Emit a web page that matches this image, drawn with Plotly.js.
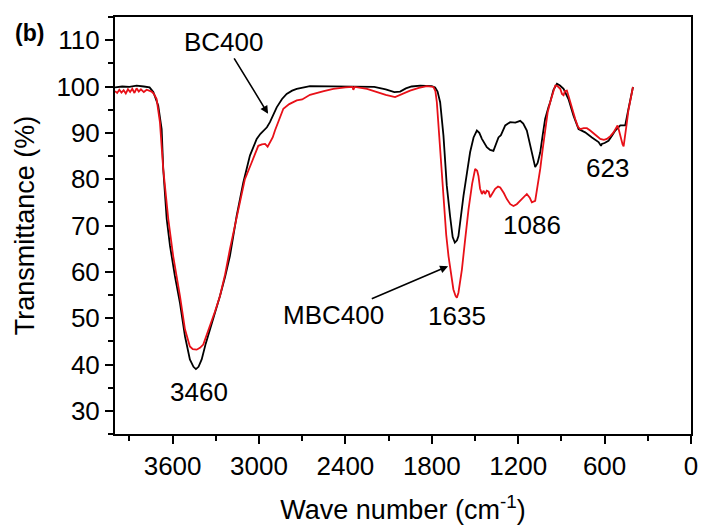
<!DOCTYPE html>
<html>
<head>
<meta charset="utf-8">
<script src="https://cdn.plot.ly/plotly-3.0.1.min.js"></script>
<style>html,body{margin:0;padding:0;background:#fff;}#chart{width:702px;height:525px;}</style>
</head>
<body>
<div id="chart"></div>
<script>
// BC400 (black)
const bcWave = [4000,3950,3900,3850,3800,3760,3734,3700,3676,3665,3641,3618,3584,3549,3514,3480,3455,3438,3420,3398,3370,3340,3305,3271,3235,3202,3155,3109,3063,3016,2990,2970,2945,2924,2900,2877,2840,2808,2770,2738,2646,2500,2400,2300,2200,2120,2060,2020,1980,1940,1880,1800,1777,1760,1742,1719,1696,1673,1655,1640,1625,1615,1600,1580,1555,1534,1510,1487,1470,1452,1418,1395,1372,1355,1337,1320,1290,1256,1220,1186,1165,1140,1120,1105,1082,1065,1047,1030,1013,990,978,955,931,910,885,851,816,781,735,688,642,625,619,600,573,550,526,491,470,457,434,403];
const bcTrans = [99.8,100.0,99.9,100.2,100.0,99.8,98.8,95.9,90.8,82.2,71.4,65.6,59.1,53.3,46.1,41.1,39.5,39.0,39.5,41.1,44.5,47.6,51.2,54.8,59.0,63.4,72.1,79.3,85.1,88.7,89.8,90.5,91.2,92.3,93.8,95.5,97.3,98.4,99.1,99.5,100.1,100.0,100.0,100.0,99.9,99.4,98.8,98.9,99.6,100.0,100.2,100.1,99.8,98.9,96.6,89.4,78.6,72.0,67.5,66.3,66.8,67.7,71.5,76.4,81.5,85.8,89.0,90.5,90.0,88.7,86.9,86.3,86.1,87.5,89.0,89.5,91.6,92.3,92.2,92.6,92.0,90.5,88.0,85.8,82.6,83.5,85.8,89.5,93.0,95.5,96.6,99.3,100.6,100.2,99.5,97.3,93.7,90.8,90.1,89.0,88.0,87.2,87.6,87.8,88.3,89.3,90.5,91.6,91.5,91.6,95.2,99.9];

// MBC400 (red)
const mbcWave = [4000,3985,3970,3955,3940,3925,3910,3895,3880,3865,3850,3835,3820,3800,3780,3760,3746,3730,3711,3688,3665,3630,3596,3549,3514,3480,3460,3433,3410,3387,3340,3305,3271,3235,3202,3144,3098,3051,3005,2980,2958,2940,2924,2905,2889,2860,2831,2790,2738,2700,2646,2550,2484,2400,2350,2345,2335,2250,2182,2120,2055,2000,1951,1890,1835,1789,1775,1765,1742,1719,1700,1684,1665,1650,1635,1626,1615,1591,1570,1545,1520,1499,1485,1476,1465,1452,1440,1430,1418,1405,1395,1380,1360,1340,1325,1300,1279,1255,1233,1210,1186,1160,1140,1120,1105,1082,1065,1047,1030,1013,995,978,955,943,931,915,908,896,885,875,862,851,839,820,804,785,769,745,723,700,677,650,630,605,584,560,538,520,510,500,486,475,468,458,445,435,422,403];
const mbcTrans = [99.0,98.6,99.3,98.7,99.2,98.5,99.4,98.8,99.5,98.6,99.6,98.9,99.4,98.8,99.3,99.0,98.9,98.4,97.3,92.3,82.2,71.4,63.4,54.8,47.6,43.9,43.3,43.2,43.6,44.3,48.3,51.5,54.8,59.5,64.9,73.5,80.0,83.6,87.2,87.5,87.6,87.0,88.0,89.0,90.5,93.0,95.2,96.2,97.0,97.2,98.2,99.0,99.5,99.8,99.9,99.3,99.9,99.5,98.8,98.2,97.7,98.4,99.1,99.7,100.1,99.9,99.0,96.6,85.8,75.0,68.0,63.4,59.0,56.2,54.8,54.4,55.5,60.5,66.5,73.5,79.0,82.2,81.8,80.7,78.0,76.8,77.5,76.8,77.5,77.3,76.1,77.0,77.9,78.4,78.2,77.0,75.7,74.6,74.2,74.6,75.3,76.0,76.8,76.0,75.0,75.3,78.5,82.2,86.5,90.8,94.5,96.6,99.0,100.2,100.2,99.8,99.5,98.4,98.1,99.0,99.1,98.0,96.6,94.5,93.0,91.3,90.8,91.0,91.0,90.5,89.8,89.2,88.7,88.5,88.7,89.3,90.1,91.0,91.6,90.5,88.7,87.5,87.1,89.0,92.3,94.8,96.6,99.9];

const peakLabels = ['3460','1635','1086','623'];
const peakX = [3417,1624,1103,581];
const peakY = [34.1,50.4,70.1,82.4];

const FONT = 'Arial, "Liberation Sans", sans-serif';

const traces = [
  {x: bcWave, y: bcTrans, type: 'scatter', mode: 'lines', name: 'BC400',
   line: {color: '#000000', width: 1.8}},
  {x: mbcWave, y: mbcTrans, type: 'scatter', mode: 'lines', name: 'MBC400',
   line: {color: 'rgb(232,16,24)', width: 1.8}}
];

const annotations = peakLabels.map((t, i) => ({
  x: peakX[i], y: peakY[i], xref: 'x', yref: 'y', text: t, showarrow: false,
  font: {family: FONT, size: 26, color: '#000'}
}));
const plotW = 702 - 115 - 11, plotH = 525 - 17 - 91;
annotations.push(
  {x: 2937, y: 94.1, xref: 'x', yref: 'y', text: 'BC400', showarrow: true,
   ax: -44, ay: -72, arrowhead: 2, arrowsize: 1, arrowwidth: 1.6, arrowcolor: '#000',
   font: {family: FONT, size: 26, color: '#000'}},
  {x: 1687, y: 61.2, xref: 'x', yref: 'y', text: 'MBC400', showarrow: true,
   ax: -115, ay: 49, arrowhead: 2, arrowsize: 1, arrowwidth: 1.6, arrowcolor: '#000',
   font: {family: FONT, size: 26, color: '#000'}},
  {x: (29 - 115) / plotW, y: (525 - 91 - 33) / plotH, xref: 'paper', yref: 'paper',
   xanchor: 'center', yanchor: 'middle', text: '<b>(b)</b>', showarrow: false,
   font: {family: FONT, size: 23, color: '#000'}}
);

const layout = {
  width: 702, height: 525,
  margin: {l: 115, r: 11, t: 17, b: 91},
  paper_bgcolor: '#fff', plot_bgcolor: '#fff',
  showlegend: false,
  font: {family: FONT, size: 26, color: '#000'},
  xaxis: {
    range: [4000, 0], tick0: 0, dtick: 600,
    ticks: 'outside', ticklen: 8, tickwidth: 2, tickcolor: '#000',
    showline: true, linewidth: 2, linecolor: '#000', mirror: true,
    showgrid: false, zeroline: false,
    tickfont: {family: FONT, size: 26, color: '#000'},
    minor: {dtick: 300, ticks: 'outside', ticklen: 5, tickwidth: 2, tickcolor: '#000', showgrid: false},
    title: {text: 'Wave number (cm<sup>-1</sup>)', font: {family: FONT, size: 27, color: '#000'}, standoff: 22}
  },
  yaxis: {
    range: [25, 115], tick0: 0, dtick: 10,
    ticks: 'outside', ticklen: 8, tickwidth: 2, tickcolor: '#000',
    showline: true, linewidth: 2, linecolor: '#000', mirror: true,
    showgrid: false, zeroline: false,
    tickfont: {family: FONT, size: 26, color: '#000'},
    minor: {dtick: 5, ticks: 'outside', ticklen: 5, tickwidth: 2, tickcolor: '#000', showgrid: false},
    title: {text: 'Transmittance (%)', font: {family: FONT, size: 27, color: '#000'}, standoff: 14}
  },
  annotations: annotations
};

Plotly.newPlot('chart', traces, layout, {displayModeBar: false, staticPlot: true});
</script>
</body>
</html>
